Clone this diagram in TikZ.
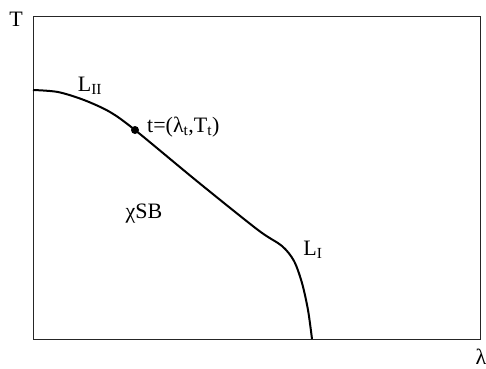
\documentclass[tikz,border=0pt]{standalone}
\usepackage{fontspec}
\setmainfont{Liberation Serif}
\usetikzlibrary{calc, positioning}

\begin{document}
\begin{tikzpicture}[
        x=1pt, y=-1pt,
        frame/.style={draw=black!85, line width=0.9pt},
        phaseline/.style={draw=black, line width=2pt, line join=round},
        lbl/.style={font=\fontsize{22}{24}\selectfont, inner sep=0pt},
        tripdot/.style={circle, fill=black, inner sep=0pt, minimum size=8pt}
    ]
        \useasboundingbox (0,0) rectangle (486,368);
        \draw[frame] (33,16) rectangle (480,339);

        \node[lbl] (Tax) at (16,19) {T};
        \node[lbl] (lamax) at (481,357) {λ};

        \coordinate (start) at (33,90);
        \coordinate (tpt) at (135,130);
        \coordinate (endpt) at (312,339);
        \draw[phaseline] plot[smooth, tension=0.5] coordinates {(start) (58,92) (84,100) (110,112) (tpt) (198,182) (258,230) (282,246) (294,261) (302,283) (308,310) (endpt)};
        \node[tripdot] (tdot) at (tpt) {};

        \node[lbl, anchor=west] (tlabel) at (147,127) {t=(λ\textsubscript{t},T\textsubscript{t})};
        \node[lbl] (L2) at (90,86) {L\textsubscript{II}};
        \node[lbl] (L1) at (313,250) {L\textsubscript{I}};
        \node[lbl] (chisb) at (144,214) {χSB};
    \end{tikzpicture}
\end{document}
